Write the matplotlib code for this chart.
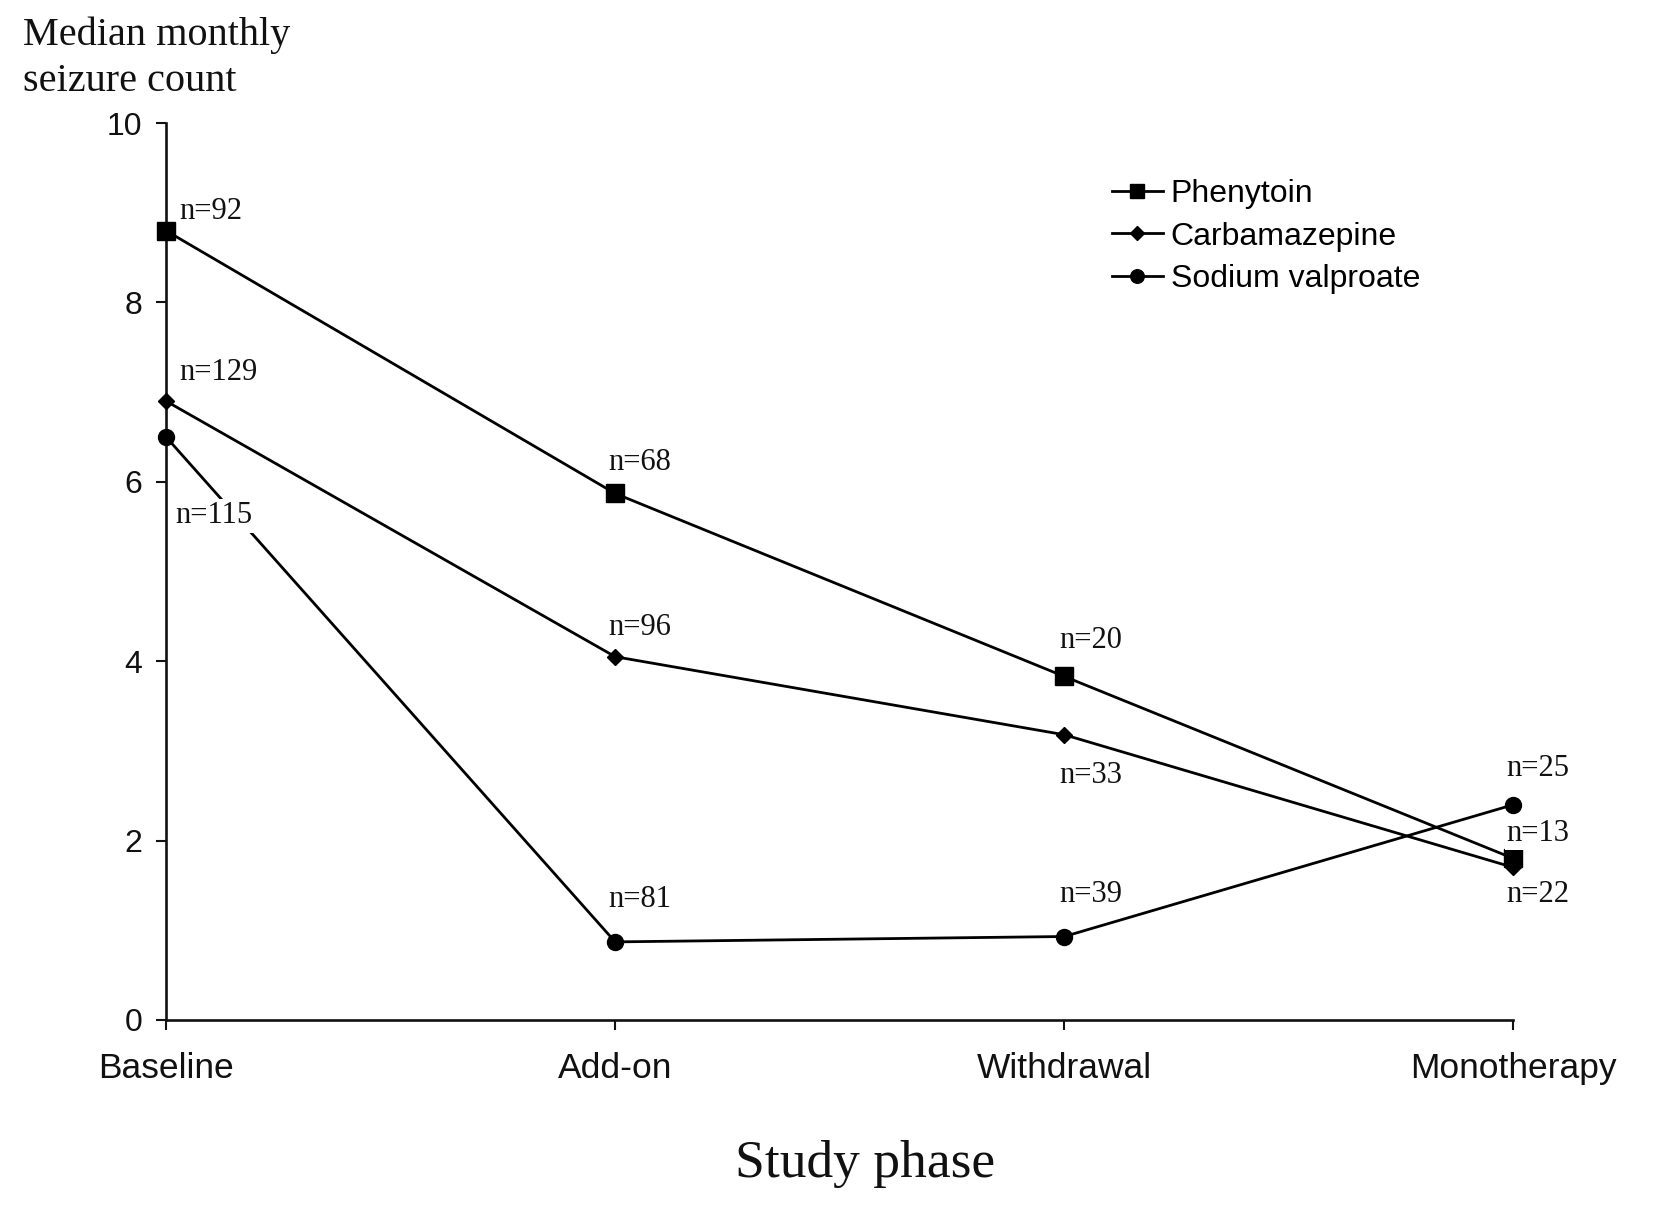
import matplotlib
matplotlib.use("Agg")
import matplotlib.pyplot as plt

phases = ["Baseline", "Add-on", "Withdrawal", "Monotherapy"]
phenytoin = [8.8, 5.87, 3.83, 1.8]
carbamazepine = [6.9, 4.05, 3.18, 1.7]
valproate = [6.5, 0.87, 0.93, 2.4]
n_phenytoin = ["n=92", "n=68", "n=20", "n=13"]
n_carbamazepine = ["n=129", "n=96", "n=33", "n=22"]
n_valproate = ["n=115", "n=81", "n=39", "n=25"]
y_ticks = [0, 2, 4, 6, 8, 10]

# label offsets (data units, layout only)
off_phen = [(0.03, 0.22), (-0.015, 0.35), (-0.01, 0.40), (-0.015, 0.28)]
off_carb = [(0.03, 0.32), (-0.015, 0.33), (-0.01, -0.45), (-0.015, -0.30)]
off_valp = [(0.02, -0.88), (-0.015, 0.47), (-0.01, 0.47), (-0.015, 0.40)]

fig = plt.figure(figsize=(16.54, 12.07), dpi=100)
ax = fig.add_axes([0.1004, 0.155, 0.8146, 0.743])
x = list(range(len(phases)))

lw = 2.0
ax.plot(x, phenytoin, color="black", lw=lw, marker="s", ms=12.5, label="Phenytoin", zorder=3, clip_on=False)
ax.plot(x, carbamazepine, color="black", lw=lw, marker="D", ms=8.5, label="Carbamazepine", zorder=3, clip_on=False)
ax.plot(x, valproate, color="black", lw=lw, marker="o", ms=11.5, label="Sodium valproate", zorder=3, clip_on=False)

serif = ["Liberation Serif", "DejaVu Serif"]
sans = ["Liberation Sans", "DejaVu Sans"]
for vals, labs, offs in [(phenytoin, n_phenytoin, off_phen),
                         (carbamazepine, n_carbamazepine, off_carb),
                         (valproate, n_valproate, off_valp)]:
    for xi, (v, lab, (dx, dy)) in enumerate(zip(vals, labs, offs)):
        ax.text(xi + dx, v + dy, lab, family=serif, fontsize=22, color="#111111",
                ha="left", va="center", zorder=5,
                bbox=dict(facecolor="white", edgecolor="none", pad=1.5))

ax.set_xlim(0, 3)
ax.set_ylim(0, 10)
ax.set_xticks(x)
ax.set_xticklabels(phases, family=sans, fontsize=25.5)
ax.set_yticks(y_ticks)
ax.set_yticklabels([str(t) for t in y_ticks], family=sans, fontsize=23)
for s in ["top", "right"]:
    ax.spines[s].set_visible(False)
for s in ["left", "bottom"]:
    ax.spines[s].set_linewidth(1.9)
    ax.spines[s].set_color("#111111")
ax.tick_params(axis="both", length=7, width=1.5, color="#111111", labelcolor="#111111")
ax.tick_params(axis="y", pad=10)
ax.tick_params(axis="x", pad=16)

leg = ax.legend(loc="upper left", bbox_to_anchor=(0.69, 0.955), frameon=False,
                prop={"family": sans, "size": 23}, handlelength=1.6,
                handletextpad=0.25, labelspacing=0.38, borderpad=0)
for h in leg.legend_handles:
    h.set_markersize(h.get_markersize() * 0.85)

fig.text(0.014, 0.986, "Median monthly\nseizure count", family=serif, fontsize=29,
         color="#111111", ha="left", va="top", linespacing=1.3)
fig.text(0.523, 0.036, "Study phase", family=serif, fontsize=38.5, color="#111111",
         ha="center", va="center")

fig.savefig("out.png", dpi=100, facecolor="white")
